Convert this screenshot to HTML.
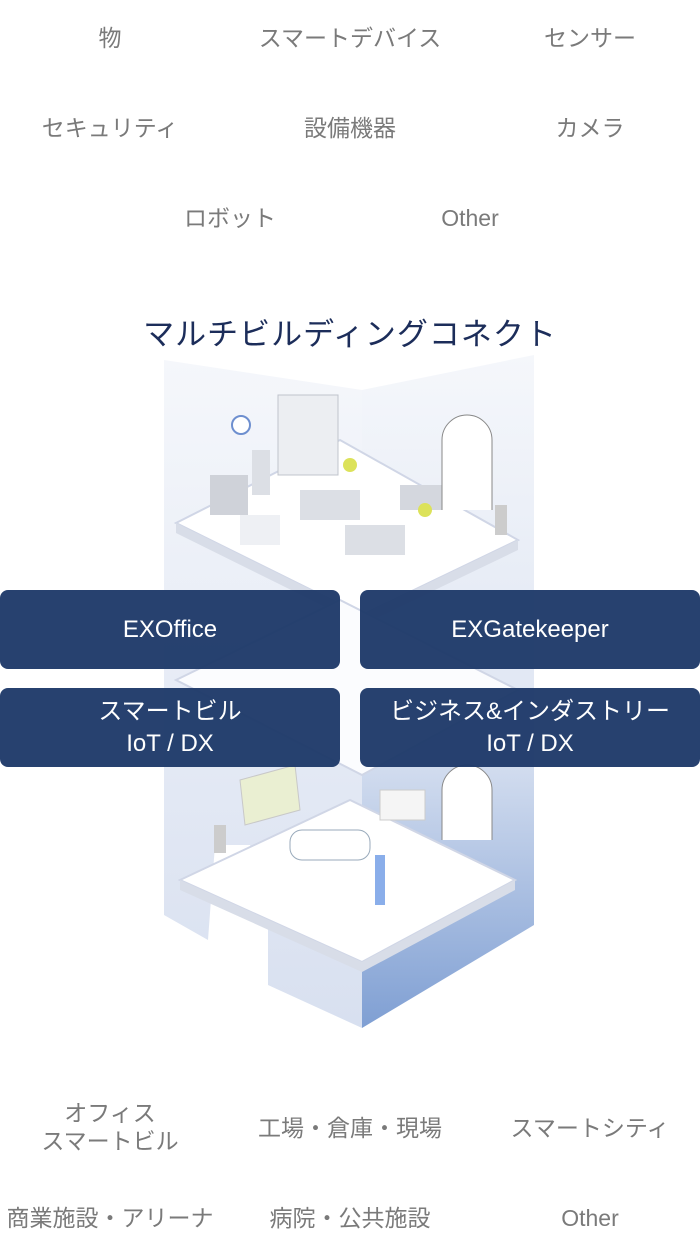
<!DOCTYPE html>
<html><head><meta charset="utf-8"><style>
body{margin:0;width:700px;height:1250px;background:#fff;position:relative;overflow:hidden;font-family:"Liberation Sans","Noto Sans CJK JP",sans-serif}
.t{position:absolute;width:260px;text-align:center;color:#7a7a7a;font-size:23px;line-height:28px;transform:translateX(-50%)}
.title{position:absolute;left:0;width:700px;top:309px;text-align:center;color:#1c2d5a;font-size:31px;letter-spacing:1px}
.b{position:absolute;width:340px;height:79px;background:rgba(30,57,105,0.96);border-radius:8px;color:#fff;font-size:24px;display:flex;align-items:center;justify-content:center;text-align:center;line-height:32px}
svg{position:absolute;left:0;top:0}
</style></head><body>
<div class="t" style="left:110px;top:24px">物</div>
<div class="t" style="left:350px;top:24px">スマートデバイス</div>
<div class="t" style="left:590px;top:24px">センサー</div>
<div class="t" style="left:110px;top:114px">セキュリティ</div>
<div class="t" style="left:350px;top:114px">設備機器</div>
<div class="t" style="left:590px;top:114px">カメラ</div>
<div class="t" style="left:230px;top:204px">ロボット</div>
<div class="t" style="left:470px;top:204px">Other</div>
<div class="title">マルチビルディングコネクト</div>
<svg width="700" height="1250">
<defs>
<linearGradient id="gl" x1="0" y1="0" x2="0" y2="1"><stop offset="0" stop-color="#f5f7fb"/><stop offset="1" stop-color="#d8e0f0"/></linearGradient>
<linearGradient id="gr" x1="0" y1="0" x2="0" y2="1"><stop offset="0" stop-color="#f5f7fb"/><stop offset="0.55" stop-color="#dfe6f3"/><stop offset="1" stop-color="#7f9fd3"/></linearGradient>
</defs>
<polygon points="164,360 362,390 362,1028 268,985 268,900 250,845 215,845 208,940 164,915" fill="url(#gl)"/>
<polygon points="362,390 534,355 534,925 362,1028" fill="url(#gr)"/>
<polygon points="176,523 340,440 518,540 362,615" fill="#fff" stroke="#d0d6e6" stroke-width="2"/>
<polygon points="176,523 362,615 362,625 176,533" fill="#d8dde8"/>
<polygon points="362,615 518,540 518,550 362,625" fill="#d8dde8"/>
<polygon points="176,680 340,600 518,690 362,775" fill="#fbfcfe" stroke="#d0d6e6" stroke-width="2"/>
<polygon points="180,880 350,800 515,880 362,962" fill="#fff" stroke="#d0d6e6" stroke-width="2"/>
<polygon points="180,880 362,962 362,972 180,890" fill="#d8dde8"/>
<polygon points="362,962 515,880 515,890 362,972" fill="#d8dde8"/>
<rect x="278" y="395" width="60" height="80" fill="#eceef2" stroke="#c0c4cc"/>
<rect x="210" y="475" width="38" height="40" fill="#cfd2d9"/>
<rect x="252" y="450" width="18" height="45" fill="#dcdfe5"/>
<rect x="240" y="515" width="40" height="30" fill="#eef0f4"/>
<rect x="300" y="490" width="60" height="30" fill="#dcdfe5"/>
<rect x="345" y="525" width="60" height="30" fill="#dcdfe5"/>
<rect x="400" y="485" width="45" height="25" fill="#d4d7de"/>
<circle cx="241" cy="425" r="9" fill="#fff" stroke="#6e8fcf" stroke-width="2"/>
<circle cx="350" cy="465" r="7" fill="#dce25a"/><circle cx="425" cy="510" r="7" fill="#dce25a"/>
<path d="M442,510 V440 a25,25 0 0 1 50,0 V510" fill="#fff" stroke="#888"/>
<path d="M442,840 V790 a25,25 0 0 1 50,0 V840" fill="#fff" stroke="#888"/>
<rect x="495" y="505" width="12" height="30" fill="#ccc"/>
<polygon points="240,780 295,765 300,810 245,825" fill="#eaefd2" stroke="#c8c8c8"/>
<rect x="290" y="830" width="80" height="30" rx="12" fill="#fff" stroke="#9ab"/>
<rect x="380" y="790" width="45" height="30" fill="#f5f5f5" stroke="#ccc"/>
<rect x="375" y="855" width="10" height="50" fill="#8aaeea"/>
<rect x="214" y="825" width="12" height="28" fill="#ccc"/>
</svg>
<div class="b" style="left:0;top:590px">EXOffice</div>
<div class="b" style="left:360px;top:590px">EXGatekeeper</div>
<div class="b" style="left:0;top:688px">スマートビル<br>IoT / DX</div>
<div class="b" style="left:360px;top:688px">ビジネス&amp;インダストリー<br>IoT / DX</div>
<div class="t" style="left:110px;top:1099px">オフィス<br>スマートビル</div>
<div class="t" style="left:350px;top:1114px">工場・倉庫・現場</div>
<div class="t" style="left:590px;top:1114px">スマートシティ</div>
<div class="t" style="left:110px;top:1204px">商業施設・アリーナ</div>
<div class="t" style="left:350px;top:1204px">病院・公共施設</div>
<div class="t" style="left:590px;top:1204px">Other</div>
</body></html>
